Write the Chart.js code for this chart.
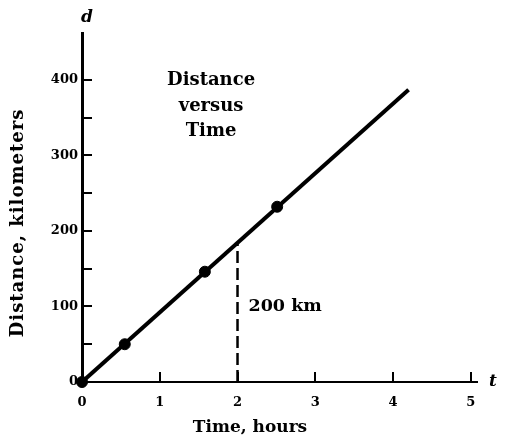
<!DOCTYPE html>
<html>
<head>
<meta charset="utf-8">
<script src="https://cdn.jsdelivr.net/npm/chart.js@4"></script>
<style>
  html, body { margin: 0; padding: 0; background: #fff; }
  #wrap { width: 507px; height: 440px; }
</style>
</head>
<body>
<div id="wrap"><canvas id="dist-chart"></canvas></div>
<script>
// ===================== data =====================
const hours = [0, 0.55, 1.58, 2.51]
const distances = [0, 50, 146, 232]
const lineHours = [0, 4.2]
const lineDistances = [0, 387]
const markHour = 2
const markDistances = [0, 184]
const xTicks = [0, 1, 2, 3, 4, 5]
const yTicks = [0, 50, 100, 150, 200, 250, 300, 350, 400]

const serif = "'DejaVu Serif', 'Liberation Serif', serif"

// ===================== text on the plot =====================
const textLabels = {
  id: "textLabels",
  afterDraw(chart) {
    const { ctx, scales: { x, y }, chartArea } = chart
    ctx.save()
    ctx.fillStyle = "#000"
    ctx.textBaseline = "middle"

    // heading inside the plot
    ctx.textAlign = "center"
    ctx.font = "bold 18px " + serif
    const cx = x.getPixelForValue(1.66)
    ctx.fillText("Distance", cx, y.getPixelForValue(400))
    ctx.fillText("versus", cx, y.getPixelForValue(365))
    ctx.fillText("Time", cx, y.getPixelForValue(332))

    // dashed line note
    ctx.textAlign = "left"
    ctx.font = "bold 17.5px " + serif
    ctx.fillText("200 km", x.getPixelForValue(markHour) + 11, y.getPixelForValue(100))

    // axis letters
    ctx.font = "italic bold 17px " + serif
    ctx.textAlign = "center"
    ctx.fillText("d", x.getPixelForValue(0) + 5, chartArea.top - 15)
    ctx.fillText("t", chartArea.right + 16, y.getPixelForValue(0))

    // axis titles
    ctx.font = "bold 17px " + serif
    ctx.fillText("Time, hours", 250, 428)
    ctx.font = "bold 18px " + serif
    ctx.letterSpacing = "1px"
    ctx.translate(18, 223)
    ctx.rotate(-Math.PI / 2)
    ctx.fillText("Distance, kilometers", 0, 0)
    ctx.restore()
  }
}

const distChart = new Chart(document.getElementById("dist-chart"), {
  type: "scatter",
  data: {
    datasets: [
      {
        type: "line",
        data: lineHours.map((h, i) => ({ x: h, y: lineDistances[i] })),
        borderColor: "#000",
        borderWidth: 4,
        pointRadius: 0,
        showLine: true
      },
      {
        type: "line",
        data: markDistances.map(d => ({ x: markHour, y: d })),
        borderColor: "#000",
        borderWidth: 2.5,
        borderDash: [12, 5],
        pointRadius: 0,
        showLine: true
      },
      {
        data: hours.map((h, i) => ({ x: h, y: distances[i] })),
        backgroundColor: "#000",
        borderColor: "#000",
        pointRadius: 5.5,
        pointHoverRadius: 5.5,
        clip: false
      }
    ]
  },
  options: {
    responsive: true,
    maintainAspectRatio: false,
    animation: false,
    layout: { padding: { left: 0, right: 30, top: 33, bottom: 0 } },
    plugins: {
      legend: { display: false },
      tooltip: { enabled: false }
    },
    scales: {
      x: {
        type: "linear",
        min: 0,
        max: 5.08,
        afterBuildTicks: s => { s.ticks = xTicks.map(v => ({ value: v })) },
        afterFit: s => { s.height = 58 },
        border: { display: true, color: "#000", width: 2 },
        grid: {
          drawOnChartArea: false,
          drawTicks: true,
          tickLength: -10,
          color: "#000",
          lineWidth: 2
        },
        ticks: {
          padding: 23,
          color: "#000",
          font: { family: serif, weight: "bold", size: 13 }
        }
      },
      y: {
        type: "linear",
        min: 0,
        max: 462,
        afterBuildTicks: s => { s.ticks = yTicks.map(v => ({ value: v })) },
        afterFit: s => { s.width = 82 },
        border: { display: true, color: "#000", width: 3 },
        grid: {
          drawOnChartArea: false,
          drawTicks: true,
          tickLength: -10,
          color: "#000",
          lineWidth: 2
        },
        ticks: {
          padding: 14,
          color: "#000",
          font: { family: serif, weight: "bold", size: 13 },
          callback: v => (v % 100 === 0 ? v : "")
        }
      }
    }
  },
  plugins: [textLabels]
})
</script>
</body>
</html>
